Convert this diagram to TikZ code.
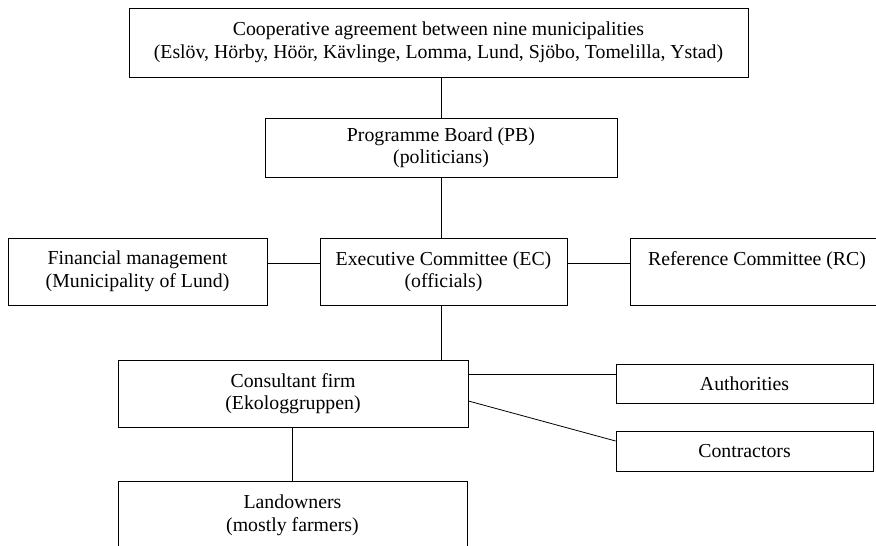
\documentclass[tikz,border=0pt]{standalone}
\usepackage{fontspec}
\setmainfont{Liberation Serif}
\begin{document}
\begin{tikzpicture}[x=1pt, y=-1pt, line width=0.8pt,
    box/.style={draw, rectangle, align=center, inner sep=0pt, font=\fontsize{19.8}{22.5}\selectfont}]
    \useasboundingbox (0, 0) rectangle (876, 546);

    \def\lift{8pt}

    \node[box, minimum width=619pt, minimum height=69pt] (agreement) at (438.5, 42.5)
      {Cooperative agreement between nine municipalities\\(Eslöv, Hörby, Höör, Kävlinge, Lomma, Lund, Sjöbo, Tomelilla, Ystad)};
    \node[box, minimum width=352pt, minimum height=59pt] (board) at (441, 147.5) {Programme Board (PB)\\(politicians)};
    \node[box, minimum width=247pt, minimum height=67pt] (exec) at (443.5, 271.5) {Executive Committee (EC)\\(officials)};
    \node[box, minimum width=259pt, minimum height=67pt] (finance) at (137.5, 271.5) {Financial management\\(Municipality of Lund)};
    \node[box, minimum width=254pt, minimum height=67pt] (refcom) at (757, 271.5) {Reference Committee (RC)\\\phantom{(x)}};
    \node[box, minimum width=350pt, minimum height=67pt] (consult) at (293, 393.5) {Consultant firm\\(Ekologgruppen)};
    \node[box, minimum width=257pt, minimum height=39pt] (authority) at (744.5, 383.5) {Authorities};
    \node[box, minimum width=257pt, minimum height=40pt] (contract) at (744.5, 451) {Contractors};
    \node[box, minimum width=349pt, minimum height=69pt] (landown) at (292.5, 515.5) {Landowners\\(mostly farmers)};

    \draw (board.north) -- (board.north |- agreement.south);
    \draw (board.south) -- (board.south |- exec.north);
    \draw ([yshift=\lift]finance.east) -- ([yshift=\lift]exec.west);
    \draw ([yshift=\lift]exec.east) -- ([yshift=\lift]refcom.west);
    \draw (board.south |- exec.south) -- (board.south |- consult.north);
    \draw ([yshift=19.5pt]consult.east) -- ([yshift=19.5pt]consult.east -| authority.west);
    \draw ([yshift=-7.5pt]consult.east) -- ([yshift=10pt]contract.west);
    \draw (consult.south -| landown.north) -- (landown.north);
  \end{tikzpicture}
\end{document}
